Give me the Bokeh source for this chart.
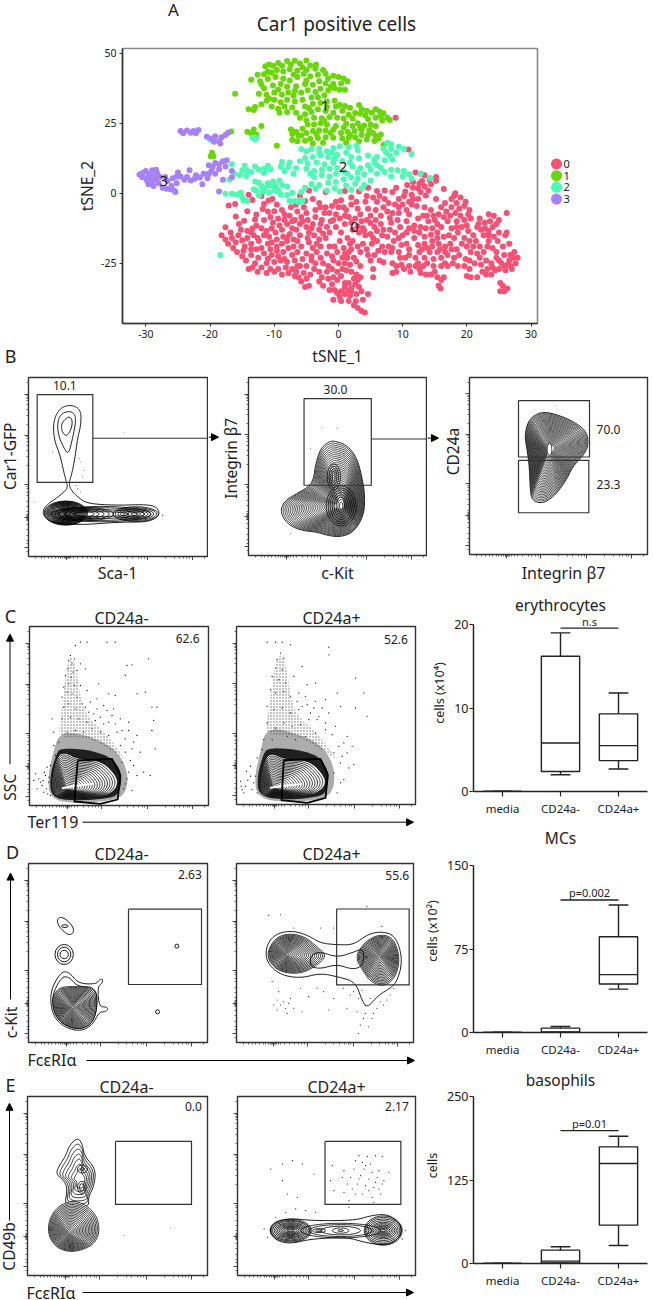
import math
from bokeh.embed import file_html
from bokeh.resources import INLINE
from bokeh.plotting import figure
from bokeh.layouts import column, row
from bokeh.models import Label, Arrow, NormalHead, FixedTicker, FactorRange, CustomJSTickFormatter

FONT = "Noto Sans"
INK = "#222222"
COL0, COL1, COL2, COL3 = "#FB5074", "#68D800", "#4CFBB4", "#A681F8"

# ---------- tSNE values (tSNE_1, tSNE_2) ----------
cluster0 = [(-18.2,-15),(-17.6,-16.5),(-17.2,-18),(-16.6,-16),(-16,-17.5),(-15.6,-15),(-15,-16.8),(-14.6,-19),(-14.2,-16),(-13.6,-18),(-13.2,-15),(-12.8,-20),(-12.4,-17),(-17.6,-12.1),(-15.5,-11),(-14.7,-9.8),(-12.8,-7.6),(-14.2,-6.4),(-16,-8.3),(-17.1,-4.4),(-16.1,-3.8),(-11.6,-3.8),(-10.9,-2.6),(-10.3,-2),(-15.8,-21),(-15,-22.5),(-14.4,-24),(-13.6,-22),(-13,-25),(-12.5,-23),(-12,-19.5),(-11.6,-21.5),(-11.2,-25),(-14,-27),(-13.4,-26.5),(-12.6,-28),(-12,-26.5),(-12.8,-11.5),(-12,-12.5),(-11.2,-13.5),(-11.6,-9.5),(-11,-6.5),(-10.6,-8.5),(-10.2,-10.5),(-10.4,-12.5),(-9.8,-14),(-9.4,-9),(-9.2,-11.5),(-8.8,-13),(-8.4,-9.5),(-8,-11),(-8.6,-15.5),(-9.6,-16.5),(-10.4,-17.5),(-9.6,-19),(-8.8,-18),(-8,-17),(-7.6,-14.5),(-7.2,-12.5),(-7.6,-8),(-8.8,-6),(-9.6,-4),(-7.8,-19.5),(-8.6,-21),(-9.4,-22.5),(-10,-24.5),(-10.6,-27),(-11.2,-28.5),(-10,-28),(-9.4,-27),(-8.8,-29),(-8.2,-26.5),(-7.8,-28.5),(-7.2,-27),(-6.6,-28),(-6,-26),(-6.8,-24),(-7.2,-22),(-6.4,-21),(-5.8,-19),(-6.4,-17),(-6,-15),(-6.6,-13),(-6,-11),(-5.8,-8.5),(-6.4,-6.5),(-5.4,-5),(-5,-7),(-4.8,-9.5),(-5,-12),(-4.6,-14),(-4.2,-12.5),(-3.8,-15),(-4,-11),(-3.6,-8.5),(-3.6,-6),(-2.8,-5),(-3,-3.5),(-2.2,-7),(-2.6,-9.5),(-4.6,-17.5),(-4,-19.5),(-3.4,-18),(-5,-21.5),(-4.2,-22.5),(-3.4,-21),(-2.8,-19),(-5.6,-23.5),(-5,-26),(-5.4,-28.5),(-5,-30.5),(-5.8,-31.5),(-6.2,-30),(-4.4,-29),(-4.6,-33),(-5.2,-33.5),(-3.6,-25),(-2.8,-23),(-2.4,-25),(-3,-28),(-2.6,-30),(-3,-31.5),(-2.4,-33),(-1.8,-28),(-1.6,-26),(-1.8,-21.5),(-1.4,-19),(-2,-16),(-1.4,-14),(-1.8,-12),(-1.2,-10),(-1.4,-7),(-1,-4.5),(-0.4,-3),(0,-5),(0.4,-2.5),(-0.4,-7.5),(0.2,-9),(-0.4,-12),(0.4,-14),(0.2,-17),(-0.6,-19),(-0.2,-21),(0.6,-23),(0,-25),(-0.8,-24),(-1,-27),(-0.2,-28),(-0.8,-30),(-0.2,-31),(0.4,-29.5),(0.6,-27),(1,-25),(1.4,-23),(1.6,-21),(1.8,-18),(1.4,-16),(2,-4),(1.2,-6),(1.6,-8.5),(1,-11),(2,-1.5),(2.8,-3),(3,-5.5),(3.4,-7.5),(2.6,-9),(3.6,-10),(3.2,-14),(2.2,-17),(3,-19),(3.8,-18),(4.4,-20),(3.4,-21),(2.4,-23),(1.8,-25.5),(1.2,-27.5),(1,-32),(-1.4,-34.5),(-0.6,-34.5),(1,-33.5),(2,-34),(1.6,-32),(2.6,-32.5),(3.2,-33.5),(3.6,-35),(2.4,-30.5),(2.8,-29),(3.4,-30),(1,-36),(1.8,-36.5),(2.8,-36),(0.2,-37),(-0.8,-38),(0.4,-38.5),(1.6,-38.5),(2.4,-40),(3,-41),(3.6,-42),(4.1,-42.6),(2.7,-38.5),(4.6,-36),(5.4,-30),(5.4,-27),(5,-24),(5.6,-22),(6.2,-20.5),(5.2,-18),(6,-17),(6.8,-19),(7.2,-21),(7.8,-19),(8.2,-21),(8.6,-17),(7.6,-15.5),(7,-13),(6.6,-11),(5.6,-12),(5,-8),(5.8,-6),(4.6,-5.5),(4.2,-3),(4.4,-1),(5.4,-1.5),(6,-3),(6.4,-1),(7.2,-2),(7.8,-3.5),(7,-5),(7.6,-6.5),(8.4,-7),(8.8,-4),(9.4,-2),(10.2,-1),(10,-4),(9.4,-7),(9.2,-9.5),(8.2,-10.5),(8,-13),(8.8,-14),(9.6,-12),(10,-15),(10.6,-10),(11,-7.5),(11.4,-4),(10.6,-18),(9.8,-18.5),(11,-20),(9.4,-21),(8.4,-25),(9,-26),(9.8,-25.5),(10.2,-27),(11,-26),(12,-26),(12.6,-27),(13.2,-26),(12.8,-28.5),(13.6,-29),(14.4,-29),(15,-28),(9,-28),(8.4,-28.5),(11.2,-28),(11,-22),(12,-23),(12.6,-21),(13.4,-23),(14.2,-21),(14.8,-23.5),(15.4,-21),(16,-23),(16.6,-25),(16,-26),(15.4,-30),(16,-31),(15.6,-33),(15.9,-34),(16.4,-30),(17,-26),(17.8,-25),(18.6,-26),(18,-23),(17,-22),(17.6,-20),(16.6,-19),(15.6,-18),(14.6,-17),(13.4,-18),(12.4,-18.5),(11.8,-16),(12.6,-14),(13.4,-15.5),(12.8,-12),(11.8,-11.5),(12.4,-9),(13.2,-8),(14,-10),(14.6,-12.5),(15.4,-14),(16,-12),(15,-9.5),(15.6,-7.5),(14.4,-6),(16.4,-8.5),(17,-10),(17.6,-12.5),(17.2,-15),(18,-16),(18.6,-14),(19.2,-12),(18.4,-10),(19.6,-9.5),(20,-11.5),(20.6,-9),(18.2,-7),(17.6,-5),(16.6,-3.5),(17.6,-2),(18.4,-3.5),(19,-1.5),(18.2,0),(18.8,-5.5),(19.6,-4.5),(20.4,-6),(19.2,-18),(18.4,-20),(20,-19),(20.6,-21),(19.6,-16),(21,-15),(21.4,-17),(22,-19),(22.2,-13),(21.6,-12),(22.8,-12.5),(23.4,-13.5),(24,-12),(22.6,-15),(23.4,-17),(24.2,-15.5),(24.8,-17),(22.6,-21),(22,-23),(23,-24),(23.8,-25),(24.6,-23),(23.2,-27),(22.4,-28),(21.2,-25),(21.6,-30),(20.6,-30),(20,-29.5),(23.8,-29),(24.6,-21),(25.6,-19),(25,-24),(25.8,-26),(26.6,-24),(27,-27),(26,-27.5),(25,-27),(27.6,-25),(27.9,-23),(27.4,-21),(26.8,-22),(26.6,-18),(26,-15),(26.2,-14),(25,-9.5),(24.2,-8),(26.2,-7),(23.4,-7.5),(22,-9),(25.2,-32),(25.6,-33),(25.8,-35),(25.2,-35),(26.3,-34),(14.2,5),(13.4,6.4),(15.2,4.5),(12.8,7),(15.2,5.8),(10.7,3),(11.6,4),(12.6,3.5),(13.4,2.5),(14,1),(12.8,0.5),(13.6,-0.8),(12.4,-2),(11.4,-0.5),(12.2,-4.5),(13.4,-5),(16.4,1.5),(15.2,-2),(9,2),(8.4,0.5),(7.2,1),(6,0.8),(4.6,2),(3.2,0.6),(1,0.8),(-6,-1),(-5.2,-2.8),(-4,-2),(-6.6,-4),(-7.4,-5),(-4.6,1),(-2,0.5),(-12,-1),(-13.4,-2.4),(-14,-0.5),(10.9,15.6),(8.9,27)]
cluster0_more = [(-16.8,-14),(-15.2,-13),(-14.2,-13.5),(-13.4,-12.6),(-13.6,-20),(-14.8,-20.5),(-16.4,-19.5),(-12.6,-16),(-11.6,-15),(-10.8,-15.5),(-11,-18),(-10.6,-20),(-10.4,-22),(-9,-24),(-8.4,-23.5),(-8,-24.5),(-7,-19),(-7,-16.5),(-7.2,-10),(-8.4,-7.6),(-10,-6.4),(-4.8,-16),(-3,-13),(-2.8,-11),(-2,-5),(-0.8,-9.5),(0.8,-5),(1,-8),(2,-10.5),(2.2,-13),(0.8,-19.5),(1,-21.5),(-1,-22.5),(-1.6,-30.5),(-1,-32.5),(0.4,-35),(1.4,-34.8),(3,-31),(2,-28),(2,-20),(4.6,-22),(4.2,-15),(5,-14.5),(5.4,-16),(3.8,-12.4),(4.4,-9.5),(5.8,-9.5),(6.6,-8),(6.8,-15),(8,-8.8),(9.4,-5),(10.6,-6),(11.6,-2),(11,-12.5),(10.6,-14),(11.8,-13.5),(9.4,-16),(8.4,-19.5),(9.6,-23),(10.4,-23),(12.4,-25),(13.8,-25),(14.8,-26),(13,-20),(13.8,-19.5),(14.6,-19),(15.8,-20),(16.6,-21),(17.4,-18),(15.4,-16),(16.4,-15.5),(14.4,-14.8),(13.6,-12.5),(14.8,-8),(13.8,-8),(15.4,-11),(16.8,-6.5),(16,-5),(17.4,-8),(18.4,-12),(19,-8),(20.2,-7.6),(19.8,-3),(18,-1),(20.2,-13.5),(20.4,-17),(18.8,-22),(19.8,-23.5),(20.4,-24),(19.6,-26),(21.8,-11),(22.8,-10.5),(23.6,-10),(24.6,-11),(23.4,-15),(25,-14),(21,-19),(21.6,-21.5),(22.2,-25.5),(23,-29),(24,-26.5),(24.4,-27.5),(25.4,-25),(26.4,-25.4),(26.8,-26),(27.2,-23),(25.8,-22),(24,-19.5),(23.2,-19),(20.4,-27),(12,7.4),(11.6,2),(12.4,1.8),(13,4.4),(14.4,3.2),(10.4,0.6),(11,-3),(5,-10.6),(4,-13.2),(6,-13.5),(3,-11.8),(-6.8,-9.5),(-5.6,-10),(-3,-16.4),(-2.4,-14.4),(-13,-9.4),(-11.8,-5.6),(-13.6,-14),(-11,-23.4),(-9.6,-20.5),(-8,-15.8),(-3.8,-27),(-4.2,-24),(-6.4,-26),(-6.8,-29.5),(3.8,-38),(-0.2,-35.6),(2,-34.8),(3.4,-26),(2.8,-24.4),(6.4,-24),(7,-24.6)]
cluster1 = [(-11.4,45.4),(-10.8,46),(-10.2,45.5),(-9.4,46.5),(-8.8,45.5),(-8,47.2),(-7.4,46),(-6.8,47.3),(-6,46.3),(-5.6,45),(-5,47.4),(-4.4,45.6),(-3.6,44.5),(-3.5,46),(-8.6,43.5),(-7.6,44.3),(-6.4,43.8),(-10.4,43),(-11.6,42.5),(-12.6,42.3),(-13.6,40.5),(-12.2,40),(-11,40.8),(-9.8,41.5),(-8.6,41),(-7.6,40.3),(-6.4,41.5),(-5.4,42.7),(-4.4,41.8),(-3.2,42.3),(-2,42.7),(-1.6,41),(-0.8,42),(0,41.5),(0.8,41),(1.4,40),(0.4,39.2),(-0.8,39),(-2,39.2),(-3,40),(-4,38.8),(-5.2,39),(-6.6,38.2),(-8,38),(-9,39),(-10.2,38.5),(-11.6,37.5),(-12.4,35.5),(-11.2,35.2),(-10,36),(-8.8,35.2),(-7.8,36),(-7,34.8),(-5.8,36),(-4.8,36.8),(-3.6,36.2),(-2.8,37.3),(-1.6,36.8),(-0.6,37.5),(0.2,37),(1,37),(-2.2,35),(-3.2,34.3),(-4.2,34.2),(-5.6,33.4),(-6.8,32.8),(-8,33.4),(-9,32.5),(-10,33.4),(-11.2,33),(-12,31.8),(-13,30.8),(-14,30),(-13.2,29.7),(-10.4,31),(-9.4,30.2),(-8.4,31),(-7.2,30.6),(-6.6,28.8),(-9.2,28.8),(-5.2,31),(-4,32),(-2.8,32.2),(-1.8,32.8),(-0.6,33),(-0.4,31),(0.2,31.5),(1,31.2),(1.8,30.5),(0.6,29.5),(-0.8,28.8),(-2,29.4),(-3.2,30),(-4.2,29),(-5.2,28.2),(-6,27),(-3.8,27),(-2.6,26.8),(-1.4,27.2),(-0.2,27),(0.8,26.7),(3.2,31.5),(3.6,30),(4.4,29.5),(5.2,28.8),(5.8,30),(6.4,29.2),(7,28.6),(7.6,27),(8,26.2),(6.8,26),(5.8,27),(4.6,26.4),(3.4,28.4),(2.6,28.7),(2.2,26.7),(1.2,24.8),(0.8,23.5),(2.2,24),(3,25),(4,24.2),(5,24.5),(5.8,24),(3.6,22.7),(4.8,22.5),(2.5,22.2),(1.4,22),(0.4,21.5),(-0.4,24),(-1.8,24.5),(-2.8,25),(-3.8,24.6),(-4.8,24.6),(-5.6,23),(-6.6,22),(-7.4,22.8),(-7.2,21.2),(-6.2,20.5),(-5,21.5),(-4,22.2),(-3,22.5),(-2,22.4),(-1.2,21.5),(-0.8,19.8),(-2,20),(-3.2,19.7),(-4.4,19.5),(-5.2,18.8),(-6.4,18.6),(-7.2,19),(-4,17.8),(-2.4,18),(0.6,19.6),(1.6,19.8),(2.6,20),(3.6,20.8),(4.6,20.8),(5.4,21.5),(5.8,20.5),(6.2,19.5),(5.6,18.7),(4.4,19.2),(3.2,18.6),(1.2,18),(7,17.2),(-9.6,17),(-16.1,35.5),(-16.7,22.1),(-14.2,22),(-13.6,21.4),(-13.2,22.8),(-12.8,21),(-12,24),(-19.7,14.5),(-19.9,13.2),(-19.5,13.2),(-9.6,44),(-5,44),(-2.4,44),(-11,43.4),(-12,38.8),(-7,42.4),(-5,40.2),(-9.4,37),(-6.8,36.5),(-1.2,38),(-10.8,33.8),(-8,29),(-4.6,30.4),(-1.8,30.8),(-2.2,25.8),(-5,26),(1.6,28),(-0.8,22.8),(-5.8,20.6),(-3.4,21),(4.2,27.8),(6.6,27.6),(1.8,20.8),(3.4,23.5),(6.6,21)]
cluster2 = [(-13.4,19.8),(-12.8,19.8),(-13,19.2),(-20,19.2),(-18.4,-22),(-5.8,15.8),(-5,15),(-4.2,15.8),(-3,16),(-1.8,15),(-0.8,16.2),(0.2,16.8),(1.6,16.5),(2.8,17),(3,15.4),(1.2,14.5),(-0.2,13.8),(-1.6,13),(-2.8,13.5),(-4,13),(-5.2,12.6),(-6,11.4),(-4.8,10.6),(-3.4,11),(-2.2,10.4),(-0.8,11),(-1.4,8.8),(-0.2,9),(0.6,11.5),(2,13),(3.2,12.5),(4.6,13.5),(5.6,12),(6,13),(7,16),(7.4,14.6),(8.2,15.8),(9,14.5),(8,13.4),(7.2,11.8),(8.4,12),(9.4,16.6),(10.2,15.8),(8.2,17.5),(7.6,18),(11.4,14),(6,10),(4.6,10),(3.4,9),(2.2,9.5),(5,8.4),(6,7),(7.2,7.6),(8.2,6),(9.2,8.2),(10.2,8),(11,6.8),(11.4,5.2),(10,6),(12.8,7),(14.3,5.5),(-6.6,9),(-7.8,9.5),(-8.4,8),(-9,9.6),(-7,7),(-5,8.8),(-3.8,8),(-2.6,6.5),(-3.8,5.8),(-1.4,6),(-0.4,7),(0.8,7.8),(0.8,5),(-0.4,4),(-1.6,3.8),(2,5.6),(3,5.2),(4,6.8),(2.6,3.4),(4,3),(5,4.6),(3.6,1.6),(1.2,2.8),(-0.6,1.8),(0.2,0.6),(-3,3),(-4.2,3.3),(-5.2,2),(-5.8,0.5),(-6,-2.5),(-6.8,-2.8),(-7.6,-2.8),(-6.2,-3.2),(-5.6,-2.6),(-8,2.4),(-7.2,0.2),(-8,-0.6),(-9,-0.4),(-9.4,1),(-9.8,2.6),(-8.8,3),(-10.2,4.2),(-9.2,4.5),(-10.6,2.8),(-11.4,2),(-11.8,0.6),(-10.8,0.2),(-12.4,-0.8),(-12.8,1),(-13.2,1.4),(-11.6,8.8),(-11,9.8),(-10.6,8.6),(-11.6,7.2),(-12.4,8.4),(-13,9.6),(-13.6,7.6),(-14.6,9.8),(-14.2,8),(-15,8.2),(-15.4,6.4),(-14.4,6.2),(-16.2,7),(-16.6,10.4),(-17,4.8),(-16.6,-0.2),(-17.6,-0.2),(-15.8,-0.4),(-15.2,0.2),(-15,-1.4),(-14.8,-2.6),(-14.2,-2.8),(-12.4,3.8),(-13,4.2),(-8.8,11.2),(-7.6,11),(-3,14.6),(-1,14.6),(-2.6,8.4),(-4.4,7),(1.8,11),(1.4,7),(3,7.4),(5.6,11),(6.6,9),(8.2,8.4),(-0.6,12.4),(-3.6,1.6),(-1.8,1),(2,1.2),(-11,3.6),(-12,2.6),(-10,1)]
cluster3 = [(-31,6.7),(-30.5,7.2),(-30,8),(-29.5,6.8),(-29,8.2),(-28.4,8.4),(-30.6,5.8),(-30,5.4),(-29.4,5.8),(-28.8,6.2),(-28.2,7),(-29.8,4.4),(-29,4.2),(-28.4,5),(-27.8,5.8),(-29.6,3.2),(-28.8,2.6),(-28,3.6),(-27.4,2),(-26.8,1.6),(-26.2,1.4),(-25.6,1),(-25.4,0.5),(-26,2.6),(-25.2,3.6),(-26.6,4.4),(-27,5.8),(-25.8,5.4),(-25.2,5.9),(-25,7.4),(-24.6,6),(-24,4.8),(-23.6,5.8),(-23,4.6),(-22.4,5.2),(-23.2,8.2),(-22.2,6.4),(-21.6,5.6),(-21,7),(-20.4,5.4),(-20.2,7),(-21.2,3.2),(-19.8,8),(-19.6,9.4),(-20.2,10),(-19.2,10.8),(-18.6,10.4),(-18.6,8.6),(-19.2,7),(-18,11.4),(-17.4,11.8),(-17.6,9.6),(-18,4.8),(-18.6,0.6),(-16.6,8),(-16.6,5.7),(-24.6,22.2),(-24.2,21.4),(-23.6,22.4),(-23,21.6),(-22.6,22.2),(-22.2,21.4),(-21.8,22.6),(-20.5,20.2),(-19.8,19.6),(-19.2,20.4),(-18.6,18.6),(-18.4,17.8),(-19.4,18.4),(-18.2,20),(-17.2,21.6),(-17.6,20.8)]

tsne_xticks = [-30, -20, -10, 0, 10, 20, 30]
tsne_yticks = [-25, 0, 25, 50]
cluster_names = ["0", "1", "2", "3"]
cluster_colours = [COL0, COL1, COL2, COL3]

# ---------- box plots ----------
box_cats = ["media", "CD24a-", "CD24a+"]
ery_low, ery_q1, ery_med, ery_q3, ery_high = [0, 2.0, 2.7], [0, 2.4, 3.7], [0, 5.8, 5.5], [0, 16.2, 9.3], [0, 19.0, 11.8]
mc_low, mc_q1, mc_med, mc_q3, mc_high = [0, 0, 39], [0, 0, 43.6], [0, 0.5, 52], [0, 3.9, 86], [0, 5.4, 114.5]
bas_low, bas_q1, bas_med, bas_q3, bas_high = [0, 0, 27], [0, 1, 57.4], [0, 3.5, 149.7], [0, 20, 174.6], [0, 25, 190.6]

# ---------- cytometry shapes (contour outlines, peaks, contour levels, sparse events) ----------
lv18 = [.95, .9, .85, .8, .75, .7, .65, .6, .55, .5, .45, .4, .35, .3, .25, .2, .15, .1, .05]
lv30 = [.97, .94, .91, .88, .85, .82, .79, .76, .73, .7, .67, .64, .61, .58, .55, .52, .49, .46, .43, .4, .37, .34, .31, .28, .25, .22, .19, .16, .13]
b1_top = [(200,180),(225,183),(241,200),(240,240),(230,280),(222,340),(213,385),(205,410),(207,425),(212,435),(232,456),(260,475),(350,480),(430,477),(465,483),(476,500),(470,515),(440,530),(350,530),(250,538),(165,535),(135,520),(125,500),(135,480),(170,456),(195,435),(200,425),(197,410),(190,385),(178,330),(162,290),(157,250),(162,215),(178,190)]
b1_mid = [(203,197),(222,205),(225,230),(215,280),(203,328),(190,310),(172,270),(170,230),(180,207)]
b1_in = [(205,212),(215,225),(212,250),(197,275),(182,258),(182,232)]
b1_ell = [(195,503,w,h) for w,h in [(10,5),(16,8),(22,12),(28,16),(34,20),(40,24),(46,28),(52,32),(58,36),(64,40),(70,44),(76,47),(82,50),(88,53),(94,56),(100,59),(106,62),(112,65),(118,68),(124,70),(130,72)]] + [(250,506,w,h) for w,h in [(60,16),(90,22),(120,28),(150,34),(175,40)]] + [(300,506,w,h) for w,h in [(170,14),(220,26),(260,38),(300,46)]] + [(405,506,w,h) for w,h in [(30,8),(54,14),(74,20),(92,26),(108,32),(124,38),(136,44)]]
b1_dots = [(240,350),(250,375),(370,263),(225,420),(240,440),(100,470),(155,320),(235,340),(245,395),(230,430),(485,510),(215,440)]
b2_out = [(840,500),(850,470),(880,450),(925,425),(940,400),(945,360),(960,310),(985,290),(1000,287),(1040,300),(1070,340),(1085,400),(1093,450),(1090,510),(1060,560),(1020,575),(980,570),(950,560),(900,555),(860,535)]
b2_ell = [(1022,482,w,h) for w,h in [(10,24),(20,40),(30,54),(42,68),(54,82),(66,96),(78,108),(90,120)]] + [(1000,395,w,h) for w,h in [(8,36),(18,50),(28,64),(40,78)]]
b2_dots = [(965,248),(930,310),(1010,250),(905,480),(870,565)]
b3_out = [(680,200),(730,215),(770,235),(800,260),(805,300),(790,330),(760,360),(735,410),(700,455),(665,475),(635,465),(630,430),(628,370),(622,320),(613,270),(625,225),(650,205)]
b3_dots = [(705,180),(690,205)]
c1_out = [(160,660),(152,620),(170,540),(195,530),(230,550),(300,555),(340,590),(355,620),(340,650),(300,665),(200,670)]
c2_out = [(782,655),(778,615),(795,540),(820,532),(850,548),(925,552),(965,590),(978,620),(960,645),(920,660),(820,665)]
c1_gate = [(232,555),(335,550),(360,600),(352,672),(300,685),(222,678)]
c2_gate = [(850,552),(960,548),(982,595),(975,665),(920,680),(843,672)]
c1_halo = [(152,668),(148,600),(168,535),(180,518),(260,522),(320,540),(350,565),(365,600),(358,650),(335,668),(230,676)]
c2_halo = [(774,660),(770,600),(788,535),(802,515),(880,518),(945,535),(970,560),(986,595),(978,645),(958,662),(860,672)]
c1_glow = [(148,672),(142,600),(160,525),(172,485),(200,470),(260,480),(320,505),(360,540),(385,600),(375,655),(340,675),(230,684)]
c2_glow = [(770,666),(762,600),(780,525),(792,470),(825,455),(880,470),(945,495),(985,535),(1005,595),(995,650),(960,670),(860,680)]
c1_fan = [(172,490),(182,420),(190,340),(200,270),(212,235),(228,280),(240,370),(265,430),(320,475),(380,560),(360,540),(260,480)]
c2_fan = [(792,480),(805,400),(815,320),(825,260),(842,228),(858,270),(872,370),(895,425),(950,470),(1015,555),(985,535),(880,470)]
c1_dots = [(240,200),(260,200),(320,200),(345,200),(225,210),(210,240),(205,255),(222,250),(215,265),(240,265),(203,280),(218,290),(195,300),(212,305),(230,285),(255,280),(205,325),(190,335),(222,330),(240,330),(200,350),(215,355),(185,365),(230,365),(260,345),(295,325),(325,355),(380,270),(395,268),(445,250),(375,300),(205,385),(190,395),(225,400),(245,385),(265,410),(290,400),(310,390),(345,360),(410,355),(435,350),(455,395),(470,395),(210,425),(185,430),(235,430),(260,440),(285,435),(310,445),(335,420),(360,430),(385,440),(460,435),(200,470),(225,465),(250,470),(275,460),(300,470),(325,480),(350,470),(375,490),(410,480),(455,465),(465,520),(395,520),(420,530),(375,530),(360,510),(400,570),(385,590),(430,590),(450,600),(375,625),(395,645),(105,595),(115,610),(125,630),(135,600),(110,640),(130,650),(145,620),(150,660),(140,575),(160,510),(175,500),(155,430),(370,640),(380,610),(365,560),(120,620),(128,615),(138,640),(142,655),(100,615),(132,590),(146,605),(255,395),(280,415),(300,425),(325,440),(345,445),(270,380),(290,370),(320,405),(340,400),(365,465),(385,465),(400,500),(390,555),(410,600),(160,470),(165,540),(150,570)]
c2_dots = [(800,197),(825,197),(845,197),(870,205),(985,212),(840,230),(830,250),(850,245),(825,275),(845,280),(815,300),(835,310),(855,320),(880,300),(905,270),(985,235),(810,340),(825,350),(850,345),(870,360),(895,350),(920,325),(945,320),(1065,305),(800,390),(820,400),(845,395),(870,410),(895,400),(920,385),(945,375),(975,370),(1010,350),(1090,350),(800,440),(825,455),(850,440),(875,450),(900,445),(925,430),(955,420),(985,410),(1020,390),(1100,420),(1065,395),(790,490),(815,490),(860,480),(885,490),(915,480),(945,470),(975,460),(1005,450),(1030,500),(1055,510),(1060,565),(1040,530),(1020,560),(1000,590),(1020,620),(1010,650),(720,615),(735,630),(750,600),(730,650),(760,620),(770,650),(750,570),(770,545),(785,520),(1000,530),(725,640),(742,612),(755,640),(765,600),(738,585),(722,630),(905,390),(930,410),(950,430),(975,440),(995,475),(1015,510),(1025,540),(890,375),(915,360),(940,395),(965,395),(1040,480),(1045,575),(1030,610)]
d1_blob = [(150,480),(180,425),(205,425),(232,460),(285,462),(295,450),(305,445),(305,458),(290,470),(295,530),(315,530),(322,535),(315,545),(295,545),(275,585),(240,603),(200,595),(165,570),(150,530)]
d1_mid = [(156,490),(182,440),(205,440),(230,470),(285,470),(290,530),(275,580),(240,598),(200,590),(168,565),(155,530)]
d1_body = [(152,510),(170,475),(205,468),(285,472),(290,530),(275,578),(240,597),(200,590),(168,565)]
d1_top = [(170,262),(190,262),(218,290),(218,310),(200,315),(170,285)]
d2_out = [(795,350),(820,310),(870,297),(920,310),(960,335),(1010,340),(1060,340),(1100,310),(1140,300),(1180,310),(1200,350),(1205,400),(1190,450),(1170,470),(1135,490),(1100,530),(1085,505),(1065,450),(1010,435),(960,425),(900,440),(840,430),(800,395)]
d2_left = [(797,360),(825,315),(870,302),(920,315),(955,345),(985,372),(960,400),(905,430),(840,425),(805,395)]
d2_right = [(1060,375),(1095,325),(1140,305),(1178,315),(1197,355),(1200,400),(1185,445),(1150,470),(1110,455),(1085,420)]
d2_mid = [(960,360),(1010,378),(1060,362),(1090,350),(1090,400),(1060,415),(1010,398),(960,412),(930,405),(930,372)]
d2_dots = [(805,252),(840,250),(880,290),(960,290),(1000,290),(1100,225),(1145,285),(815,450),(835,480),(850,510),(830,535),(870,500),(880,530),(900,470),(925,495),(950,470),(970,480),(1000,500),(1030,470),(1050,490),(1070,540),(1090,560),(1120,545),(1150,520),(1170,490),(1180,470),(1075,605),(860,545),(820,520),(905,540),(985,535),(1040,530),(1085,475),(1110,500),(1130,530),(1105,585),(1080,580),(840,520),(855,530),(865,515),(830,505),(1060,480),(1075,500),(1095,520),(1095,545),(1115,560),(1140,510),(1160,505)]
e1_tail = [(230,215),(245,235),(250,270),(285,310),(280,360),(262,395),(265,425),(190,425),(200,370),(190,345),(165,325),(175,300),(195,270),(205,240)]
e1_blob = [(215,405),(250,415),(285,445),(297,490),(285,530),(250,552),(205,560),(165,545),(143,510),(143,470),(160,435),(185,415)]
e1_ell = [(243,365,14,22),(243,365,26,36),(245,310,12,8),(245,310,30,24)]
e1_dots = [(370,510),(510,488)]
e2_out = [(805,495),(820,468),(870,458),(930,465),(1060,465),(1110,450),(1160,445),(1195,470),(1205,495),(1190,525),(1150,540),(1090,530),(1040,515),(930,520),(870,535),(825,525)]
e2_ell = [(870,495,w,h) for w,h in [(20,5),(30,10),(40,15),(50,20),(60,25),(70,30),(80,36),(90,42),(100,48),(110,56),(118,62),(124,68)]] + [(955,495,w,h) for w,h in [(20,5),(40,12)]] + [(1020,495,w,h) for w,h in [(18,5),(50,16),(120,26),(190,36),(240,44)]] + [(1148,495,w,h) for w,h in [(14,6),(22,11),(30,16),(40,22),(50,28),(60,34),(70,42),(80,50),(90,60),(100,70),(108,80),(114,88)]]
e2_dots = [(1075,270),(1100,272),(1125,270),(1145,272),(1065,285),(1085,290),(1110,295),(995,300),(1030,315),(1060,310),(1090,310),(1115,320),(1135,315),(1165,320),(990,345),(1025,335),(1050,335),(1080,330),(1105,340),(1130,335),(1150,345),(1000,375),(1040,355),(1070,355),(1095,360),(1120,365),(1145,355),(1030,380),(1065,385),(1085,385),(1115,395),(1140,385),(1120,410),(1045,405),(845,295),(875,285),(905,295),(810,310),(940,325),(845,345),(860,385),(890,395),(855,440),(885,430),(915,435),(945,440),(825,455),(1045,425),(790,490),(800,515),(1215,495),(1205,520),(1095,300),(1125,350),(1075,340),(1105,375),(1135,370),(1055,370)]

# ---------- tick positions common to the cytometry axes (fractions of the frame) ----------
flow_x_major = [.21, .40, .66, .91]
flow_x_minor = [.04,.07,.09,.11,.13,.15,.165,.18,.19,.2,.205,.215,.22,.225,.235,.25,.27,.3,.33,.35,.37,.385,.5,.55,.58,.61,.63,.645,.76,.81,.84,.86,.88,.895,.98]
flow_y_major = [.093, .323, .60, .78, .95]
flow_y_minor = [.03,.1,.11,.12,.13,.15,.18,.21,.26,.33,.34,.36,.38,.41,.44,.49,.61,.62,.64,.66,.69,.72,.75,.765,.77,.775,.785,.79,.795,.8,.82,.85,.88,.91,.93,.97]

PAGE_W, PAGE_H = 653, 1300
BLANK = CustomJSTickFormatter(code="return ''")


def lab(p, x, y, text, size, align="center", angle=0, color=INK):
    p.add_layout(Label(x=x, y=y, text=text, text_font=FONT, text_font_size=f"{size}px", text_align=align,
                       text_baseline="middle", angle=angle, text_color=color))


def smooth(pts, rounds=3):
    for _ in range(rounds):
        out = []
        for i, (a, b) in enumerate(pts):
            c, d = pts[(i + 1) % len(pts)]
            out += [(.75 * a + .25 * c, .75 * b + .25 * d), (.25 * a + .75 * c, .25 * b + .75 * d)]
        pts = out
    return pts


def closed(p, pts, width=0.9, color="black", round_it=True):
    q = smooth(pts) if round_it else list(pts)
    q = q + [q[0]]
    p.line([a for a, _ in q], [b for _, b in q], line_color=color, line_width=width, line_join="round")


def family(p, outline, peak, levels, width=0.8):
    base = smooth(outline)
    xs, ys = [], []
    for k in levels:
        q = [(peak[0] + (a - peak[0]) * k, peak[1] + (b - peak[1]) * k) for a, b in base]
        q.append(q[0])
        xs.append([a for a, _ in q])
        ys.append([b for _, b in q])
    p.multi_line(xs, ys, line_color="black", line_width=width, line_join="round")


def ells(p, items, width=0.8):
    p.ellipse(x=[e[0] for e in items], y=[e[1] for e in items], width=[e[2] for e in items],
              height=[e[3] for e in items], fill_color=None, line_color="black", line_width=width)


def dots(p, pts, size=1.3, color="#111111"):
    p.scatter([a for a, _ in pts], [b for _, b in pts], size=size, color=color, line_color=None)


def gate(p, x0, x1, y0, y1):
    p.line([x0, x1, x1, x0, x0], [y0, y0, y1, y1, y0], line_color="#333333", line_width=1.2, line_join="miter")


def shade(p, pts, alpha, color="#111111"):
    q = smooth(pts)
    p.patch([a for a, _ in q], [b for _, b in q], fill_color=color, fill_alpha=alpha, line_color=None)


def stipple(p, pts, scale=3, alpha=0.6):
    q = smooth(pts)
    p.patch([a for a, _ in q], [b for _, b in q], fill_alpha=0, hatch_pattern="dot", hatch_scale=scale,
            hatch_weight=0.7, hatch_color="#111111", hatch_alpha=alpha, line_color=None)


def strip(x0, x1, y0, y1):
    """A text and arrow carrier whose data units are the page's own pixels."""
    p = figure(width=x1 - x0, height=y1 - y0, x_range=(x0, x1), y_range=(y1, y0), x_axis_type=None, y_axis_type=None,
               min_border=0, output_backend="svg", toolbar_location=None, margin=0)
    p.grid.visible = False
    p.outline_line_color = None
    return p


def arrow(p, x0, y0, x1, y1):
    p.add_layout(Arrow(end=NormalHead(size=7, fill_color="black", line_color="black"),
                       x_start=x0, y_start=y0, x_end=x1, y_end=y1, line_color="black", line_width=1))


def flow(fig_x0, fig_x1, row_top, row_bottom, fl, fr, ft, fb, xr, yr):
    p = figure(width=fig_x1 - fig_x0, height=row_bottom - row_top, frame_width=fr - fl, frame_height=fb - ft,
               min_border_left=fl - fig_x0, min_border_right=fig_x1 - fr, min_border_top=ft - row_top,
               min_border_bottom=row_bottom - fb, x_range=xr, y_range=yr, output_backend="svg",
               toolbar_location=None, margin=0)
    p.grid.visible = False
    p.outline_line_color = "#333333"
    p.outline_line_width = 1.4
    xmaj = [xr[0] + f * (xr[1] - xr[0]) for f in flow_x_major]
    xmin = [xr[0] + f * (xr[1] - xr[0]) for f in flow_x_minor]
    ymaj = [yr[1] + f * (yr[0] - yr[1]) for f in flow_y_major]
    ymin = [yr[1] + f * (yr[0] - yr[1]) for f in flow_y_minor]
    p.xaxis.ticker = FixedTicker(ticks=xmaj, minor_ticks=xmin)
    p.yaxis.ticker = FixedTicker(ticks=ymaj, minor_ticks=ymin)
    for ax in (p.xaxis[0], p.yaxis[0]):
        ax.axis_line_color = None
        ax.formatter = BLANK
        ax.major_label_standoff = 0
        ax.major_tick_in = 0
        ax.major_tick_out = 4
        ax.minor_tick_in = 0
        ax.minor_tick_out = 2
        ax.major_tick_line_color = "#333333"
        ax.minor_tick_line_color = "#333333"
        ax.major_tick_line_width = 0.9
        ax.minor_tick_line_width = 0.7
    return p


def boxes(row_top, row_bottom, ft, fb, ymax, yticks, low, q1, med, q3, high, ylabel, title, title_y, bracket_y, note, note_y):
    fl, fr, x0, x1 = 473, 647, 420, 653
    top_val = ymax * (fb - row_top) / (fb - ft)
    p = figure(width=x1 - x0, height=row_bottom - row_top, frame_width=fr - fl, frame_height=fb - row_top,
               min_border_left=fl - x0, min_border_right=x1 - fr, min_border_top=0,
               min_border_bottom=row_bottom - fb, x_range=FactorRange(factors=box_cats), y_range=(0, top_val),
               output_backend="svg", toolbar_location=None, margin=0)
    p.grid.visible = False
    p.outline_line_color = None
    p.vbar(x=box_cats, bottom=q1, top=q3, width=0.66, fill_color="white", line_color=INK, line_width=1.4)
    off = lambda d: [(c, d) for c in box_cats]
    p.segment(x0=off(-.33), x1=off(.33), y0=med, y1=med, line_color=INK, line_width=1.4)
    p.segment(x0=box_cats, x1=box_cats, y0=q3, y1=high, line_color=INK, line_width=1.4)
    p.segment(x0=box_cats, x1=box_cats, y0=q1, y1=low, line_color=INK, line_width=1.4)
    p.segment(x0=off(-.17), x1=off(.17), y0=high, y1=high, line_color=INK, line_width=1.4)
    p.segment(x0=off(-.17), x1=off(.17), y0=low, y1=low, line_color=INK, line_width=1.4)
    p.segment(x0=["CD24a-"], x1=["CD24a+"], y0=[bracket_y], y1=[bracket_y], line_color=INK, line_width=1.3)
    lab(p, 2.0, note_y, note, 11)
    lab(p, 1.5, title_y, title, 15.5)
    p.yaxis.ticker = yticks
    p.yaxis.bounds = (0, ymax)
    p.yaxis.axis_label = ylabel
    p.yaxis.axis_label_text_font = FONT
    p.yaxis.axis_label_text_font_size = "12.5px"
    p.yaxis.axis_label_text_font_style = "normal"
    p.yaxis.axis_label_text_color = INK
    p.yaxis.axis_label_standoff = 3
    p.yaxis.major_label_text_font = FONT
    p.yaxis.major_label_text_font_size = "12.5px"
    p.yaxis.major_label_text_color = INK
    p.yaxis.major_label_standoff = 1
    p.yaxis.major_tick_in = 0
    p.yaxis.major_tick_out = 4
    p.yaxis.minor_tick_line_color = None
    p.xaxis.major_label_text_font = FONT
    p.xaxis.major_label_text_font_size = "11.5px"
    p.xaxis.major_label_text_color = INK
    p.xaxis.major_label_standoff = 4
    p.xaxis.major_tick_in = 0
    p.xaxis.major_tick_out = 5
    for ax in (p.xaxis[0], p.yaxis[0]):
        ax.axis_line_color = INK
        ax.axis_line_width = 1.5
        ax.major_tick_line_color = INK
        ax.major_tick_line_width = 1.2
    return p


# ---------- A: tSNE ----------
a_top = strip(0, PAGE_W, 0, 40)
lab(a_top, 173, 9, "A", 17)
lab(a_top, 336, 23, "Car1 positive cells", 19)

pa = figure(width=545, height=305, frame_width=415, frame_height=275, min_border_left=122, min_border_right=8,
            min_border_top=8, min_border_bottom=22, x_range=(-33.64, 31.0), y_range=(-46.5, 51.7),
            output_backend="svg", toolbar_location=None, margin=0)
pa.grid.visible = False
pa.outline_line_color = "#888888"
pa.outline_line_width = 1.6
for pts, col in zip([cluster0 + cluster0_more, cluster1, cluster2, cluster3], cluster_colours):
    pa.scatter([a for a, _ in pts], [b for _, b in pts], size=6, color=col, line_color=None)
pa.xaxis.ticker = tsne_xticks
pa.yaxis.ticker = tsne_yticks
pa.xaxis.major_label_overrides = {t: str(t) for t in tsne_xticks}
pa.yaxis.major_label_overrides = {t: str(t) for t in tsne_yticks}
pa.yaxis.axis_label = "tSNE_2"
pa.yaxis.axis_label_text_font = FONT
pa.yaxis.axis_label_text_font_size = "15.5px"
pa.yaxis.axis_label_text_font_style = "normal"
pa.yaxis.axis_label_text_color = INK
pa.yaxis.axis_label_standoff = 0
for ax in (pa.xaxis[0], pa.yaxis[0]):
    ax.axis_line_color = "#333333"
    ax.axis_line_width = 1.5
    ax.major_tick_line_color = "#333333"
    ax.major_tick_in = 0
    ax.major_tick_out = 3
    ax.minor_tick_line_color = None
    ax.major_label_text_font = FONT
    ax.major_label_text_font_size = "10.5px"
    ax.major_label_text_color = INK
    ax.major_label_standoff = 3
lab(pa, -2.1, 31.3, "1", 15)
lab(pa, 0.7, 9.5, "2", 15)
lab(pa, -27.2, 4.3, "3", 15)
lab(pa, 2.5, -12.2, "0", 15)

pl = strip(545, PAGE_W, 40, 345)
pl.scatter([556] * 4, [168, 181, 194, 207], size=11, color=cluster_colours, line_color=None)
for yy, name in zip([168, 181, 194, 207], cluster_names):
    lab(pl, 563, yy, name, 11, align="left")

# ---------- B ----------
b_top = strip(0, PAGE_W, 345, 376)
lab(b_top, 10, 355, "B", 18)
lab(b_top, 337, 355, "tSNE_1", 15.5)
b_left = strip(0, 23, 376, 560)
lab(b_left, 9, 458, "Car1-GFP", 15.5, angle=math.pi / 2)
b_gut1 = strip(208, 243, 376, 560)
arrow(b_gut1, 208, 438, 218, 438)
lab(b_gut1, 230, 460, "Integrin β7", 15.5, angle=math.pi / 2)
b_gut2 = strip(427, 464, 376, 560)
arrow(b_gut2, 427, 439, 438, 439)
lab(b_gut2, 452, 453, "CD24a", 15.5, angle=math.pi / 2)
b_bot = strip(0, PAGE_W, 560, 594)
lab(b_bot, 117, 572, "Sca-1", 16)
lab(b_bot, 337, 572, "c-Kit", 16)
lab(b_bot, 563, 572, "Integrin β7", 16)

b1 = flow(23, 208, 376, 560, 28, 208, 377, 556, (83, 623), (633, 97))
dots(b1, b1_dots, 1.1, "#666666")
closed(b1, b1_top)
closed(b1, b1_mid)
closed(b1, b1_in)
ells(b1, b1_ell)
gate(b1, 109, 276, 148, 411)
lab(b1, 192, 122, "10.1", 12)
b1.line([276, 623], [279, 279], line_color="#333333", line_width=1.1)

b2 = flow(243, 427, 376, 560, 248, 427, 377, 555, (745, 1280), (630, 98))
dots(b2, b2_dots, 1.1, "#666666")
closed(b2, b2_out)
family(b2, b2_out, (1022, 480), lv30, 0.7)
ells(b2, b2_ell, 0.7)
gate(b2, 911, 1112, 161, 420)
lab(b2, 1005, 133, "30.0", 12)
b2.line([1112, 1280], [282, 282], line_color="#333333", line_width=1.1)

b3 = flow(464, 653, 376, 560, 469, 647, 377, 554, (448, 982), (627, 97))
dots(b3, b3_dots, 1.1, "#888888")
closed(b3, b3_out)
family(b3, b3_out, (688, 312), lv30, 0.7)
b3.ellipse(x=[688], y=[312], width=[14], height=[36], fill_color="white", line_color="black", line_width=0.7)
gate(b3, 595, 808, 166, 335)
gate(b3, 595, 806, 345, 502)
lab(b3, 865, 252, "70.0", 12)
lab(b3, 865, 417, "23.3", 12)

# ---------- C ----------
c_top = strip(0, 420, 594, 624)
lab(c_top, 10, 615, "C", 18)
lab(c_top, 121, 617, "CD24a-", 16)
lab(c_top, 331, 617, "CD24a+", 16)
c_left = strip(0, 24, 624, 809)
lab(c_left, 9, 792, "SSC", 15.5, angle=math.pi / 2)
arrow(c_left, 9.5, 768, 9.5, 632)
c_bot = strip(0, 420, 809, 829)
lab(c_bot, 27, 821, "Ter119", 16, align="left")
arrow(c_bot, 82, 821.7, 413, 821.7)

c1 = flow(24, 212, 624, 809, 29, 208, 626, 805, (87, 625), (690, 153))
stipple(c1, c1_fan)
dots(c1, c1_dots)
shade(c1, c1_glow, 0.35)
shade(c1, c1_halo, 0.9)
shade(c1, c1_out, 1, "white")
family(c1, c1_out, (200, 640), [1] + lv18, 0.8)
c1.line([185, 215, 280], [638, 632, 625], line_color="white", line_width=2)
closed(c1, c1_gate, 1.8, round_it=False)
lab(c1, 598, 190, "62.6", 12, align="right")

c2 = flow(212, 420, 624, 809, 236, 415, 625, 803, (708, 1245), (685, 150))
stipple(c2, c2_fan)
dots(c2, c2_dots)
shade(c2, c2_glow, 0.35)
shade(c2, c2_halo, 0.9)
shade(c2, c2_out, 1, "white")
family(c2, c2_out, (820, 635), [1] + lv18, 0.8)
c2.line([808, 840, 905], [635, 630, 623], line_color="white", line_width=2)
closed(c2, c2_gate, 1.8, round_it=False)
lab(c2, 1222, 190, "52.6", 12, align="right")

c3 = boxes(594, 829, 624, 791, 20, [0, 10, 20], ery_low, ery_q1, ery_med, ery_q3, ery_high,
           "cells (x10⁴)", "erythrocytes", 22.3, 19.56, "n.s", 20.4)

# ---------- D ----------
d_top = strip(0, 420, 829, 861)
lab(d_top, 12, 851, "D", 18)
lab(d_top, 121, 853, "CD24a-", 16)
lab(d_top, 331, 853, "CD24a+", 16)
d_left = strip(0, 23, 861, 1047)
lab(d_left, 10, 1027, "c-Kit", 15.5, angle=math.pi / 2)
arrow(d_left, 10, 1003, 10, 871)
d_bot = strip(0, 420, 1047, 1067)
lab(d_bot, 27, 1059, "FcεRIα", 16, align="left")
arrow(d_bot, 86, 1060, 414, 1060)

d1 = flow(23, 212, 861, 1047, 28, 207, 863, 1042, (83, 620), (637, 100))
closed(d1, d1_top)
ells(d1, [(190,373,55,60),(190,373,40,44),(190,373,25,25),(192,288,20,8),(528,348,12,12),(470,545,12,12)], 0.9)
closed(d1, d1_blob)
closed(d1, d1_mid)
family(d1, d1_body, (215, 533), [1] + lv18, 0.8)
gate(d1, 383, 602, 237, 463)
lab(d1, 603, 133, "2.63", 12, align="right")

d2 = flow(212, 420, 861, 1047, 236, 413, 862, 1041, (708, 1240), (632, 97))
dots(d2, d2_dots, 1.1)
closed(d2, d2_out)
closed(d2, d2_mid)
family(d2, d2_left, (860, 368), lv18, 0.8)
family(d2, d2_right, (1137, 375), lv18, 0.8)
gate(d2, 1009, 1227, 233, 460)
lab(d2, 1227, 133, "55.6", 12, align="right")

d3 = boxes(829, 1067, 865, 1032, 150, [0, 75, 150], mc_low, mc_q1, mc_med, mc_q3, mc_high,
           "cells (x10²)", "MCs", 174.7, 119, "p=0.002", 126)

# ---------- E ----------
e_top = strip(0, 420, 1067, 1095)
lab(e_top, 10, 1084, "E", 18)
lab(e_top, 126, 1086, "CD24a-", 16)
lab(e_top, 336, 1086, "CD24a+", 16)
e_left = strip(0, 22, 1095, 1280)
lab(e_left, 8.5, 1250, "CD49b", 15.5, angle=math.pi / 2)
arrow(e_left, 9, 1223, 9, 1102)
e_bot = strip(0, 420, 1280, 1300)
lab(e_bot, 26, 1292, "FcεRIα", 16, align="left")
arrow(e_bot, 82, 1292, 413, 1292)

e1 = flow(22, 212, 1095, 1280, 27, 207, 1096, 1275, (80, 620), (630, 92))
closed(e1, e1_tail)
family(e1, e1_tail, (240, 345), [.88, .76, .64, .52, .4, .28])
ells(e1, e1_ell)
shade(e1, e1_blob, 1, "white")
family(e1, e1_blob, (205, 500), [1] + lv18, 0.8)
dots(e1, e1_dots, 1.1, "#777777")
gate(e1, 344, 572, 227, 416)
lab(e1, 603, 122, "0.0", 12, align="right")

e2 = flow(212, 420, 1095, 1280, 237, 415, 1096, 1275, (710, 1245), (630, 92))
dots(e2, e2_dots, 1.2)
closed(e2, e2_out)
ells(e2, e2_ell)
gate(e2, 973, 1201, 227, 416)
lab(e2, 1225, 122, "2.17", 12, align="right")

e3 = boxes(1067, 1300, 1096, 1263, 250, [0, 125, 250], bas_low, bas_q1, bas_med, bas_q3, bas_high,
           "cells", "basophils", 275, 199, "p=0.01", 209.6)

page = column(
    a_top,
    row(pa, pl),
    b_top,
    row(b_left, b1, b_gut1, b2, b_gut2, b3),
    b_bot,
    row(column(c_top, row(c_left, c1, c2), c_bot), c3),
    row(column(d_top, row(d_left, d1, d2), d_bot), d3),
    row(column(e_top, row(e_left, e1, e2), e_bot), e3),
)

open("out.html", "w").write(file_html(page, INLINE))
